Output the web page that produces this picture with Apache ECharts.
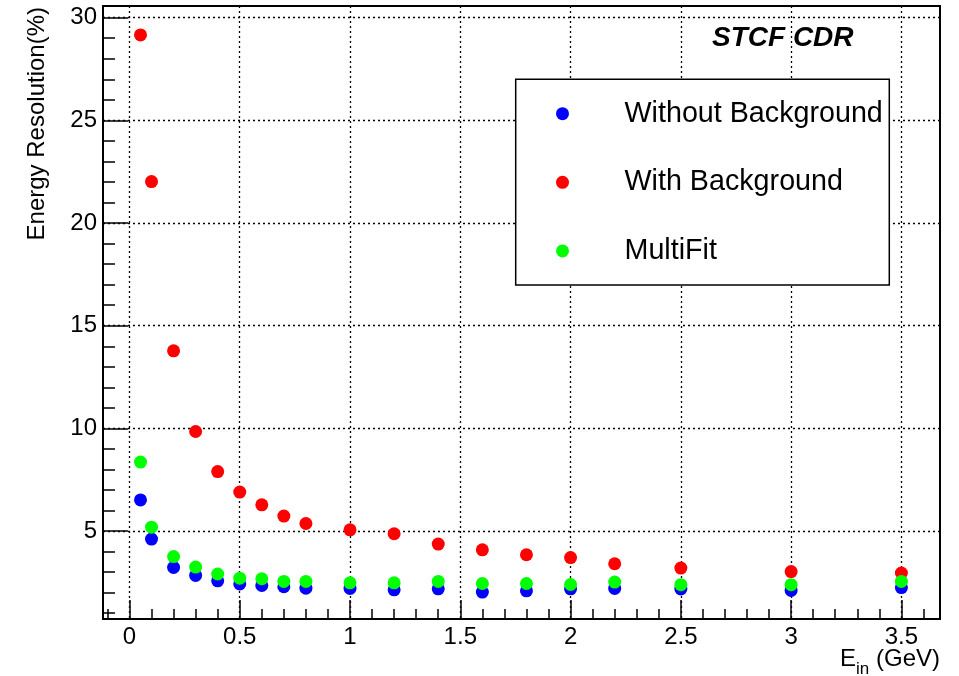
<!DOCTYPE html>
<html>
<head>
<meta charset="utf-8">
<script src="https://cdn.jsdelivr.net/npm/echarts@6/dist/echarts.min.js"></script>
<style>
  html, body { margin: 0; padding: 0; background: #fff; }
  #chart { width: 959px; height: 676px; }
</style>
</head>
<body>
<div id="chart"></div>
<script>
// Incident energy points (GeV)
const energies = [0.05, 0.1, 0.2, 0.3, 0.4, 0.5, 0.6, 0.7, 0.8, 1.0, 1.2, 1.4, 1.6, 1.8, 2.0, 2.2, 2.5, 3.0, 3.5];

// Energy resolution (%) per configuration
const withoutBackground = [6.52, 4.61, 3.23, 2.84, 2.58, 2.43, 2.35, 2.29, 2.22, 2.21, 2.14, 2.19, 2.03, 2.09, 2.19, 2.21, 2.18, 2.11, 2.25];
const withBackground    = [29.16, 22.02, 13.78, 9.85, 7.90, 6.90, 6.28, 5.73, 5.37, 5.06, 4.87, 4.37, 4.09, 3.85, 3.71, 3.41, 3.20, 3.03, 2.96];
const multiFit          = [8.36, 5.19, 3.76, 3.25, 2.91, 2.71, 2.68, 2.55, 2.55, 2.48, 2.48, 2.55, 2.45, 2.45, 2.40, 2.52, 2.39, 2.39, 2.55];

const seriesNames = ['Without Background', 'With Background', 'MultiFit'];
const seriesColors = ['#0000ff', '#ff0000', '#00ff00'];

// Axis ticks
const xMajorTicks = [0, 0.5, 1, 1.5, 2, 2.5, 3, 3.5];
const xMinorTicks = [-0.1, 0.1, 0.2, 0.3, 0.4, 0.6, 0.7, 0.8, 0.9, 1.1, 1.2, 1.3, 1.4, 1.6, 1.7, 1.8, 1.9,
                     2.1, 2.2, 2.3, 2.4, 2.6, 2.7, 2.8, 2.9, 3.1, 3.2, 3.3, 3.4, 3.6];
const yMajorTicks = [5, 10, 15, 20, 25, 30];
const yMinorTicks = [1, 2, 3, 4, 6, 7, 8, 9, 11, 12, 13, 14, 16, 17, 18, 19, 21, 22, 23, 24, 26, 27, 28, 29];

const X_MIN = -0.12, X_MAX = 3.675;
const Y_MIN = 0.72, Y_MAX = 30.57;

const FONT = '"Liberation Sans", Arial, Helvetica, sans-serif';
const BLACK = '#000';

function pairs(xs, ys) {
  return xs.map((x, i) => [x, ys[i]]);
}

const chart = echarts.init(document.getElementById('chart'), null, { renderer: 'canvas' });

const tickStyle = { color: BLACK, width: 1.5 };
const gridDots = { color: BLACK, width: 1.3, type: [2, 3] };
const hiddenLine = { show: false, onZero: false };

function scatterSeries(i, values) {
  return {
    name: seriesNames[i], type: 'scatter', symbol: 'circle', symbolSize: 13,
    xAxisIndex: 0, yAxisIndex: 0,
    itemStyle: { color: seriesColors[i], opacity: 1 },
    emphasis: { disabled: true },
    data: pairs(energies, values)
  };
}

const option = {
  animation: false,
  backgroundColor: '#fff',
  textStyle: { fontFamily: FONT },
  grid: {
    left: 103, right: 19, top: 6, bottom: 57,
    containLabel: false,
    outerBoundsMode: 'none',
    show: true, borderColor: BLACK, borderWidth: 2, backgroundColor: 'transparent'
  },
  xAxis: [
    {
      type: 'value', min: X_MIN, max: X_MAX, splitNumber: 8, position: 'bottom',
      axisLine: hiddenLine,
      axisTick: { show: true, inside: true, length: 19, customValues: xMajorTicks, lineStyle: tickStyle },
      axisLabel: { show: true, customValues: xMajorTicks, fontSize: 24, color: BLACK, margin: 6, fontFamily: FONT },
      splitLine: { show: true, lineStyle: gridDots }
    },
    {
      type: 'value', min: X_MIN, max: X_MAX, position: 'bottom',
      axisLine: hiddenLine,
      axisTick: { show: true, inside: true, length: 10, customValues: xMinorTicks, lineStyle: tickStyle },
      axisLabel: { show: false },
      splitLine: { show: false }
    }
  ],
  yAxis: [
    {
      type: 'value', min: Y_MIN, max: Y_MAX, splitNumber: 6, position: 'left',
      axisLine: hiddenLine,
      axisTick: { show: true, inside: true, length: 25, customValues: yMajorTicks, lineStyle: tickStyle },
      axisLabel: { show: true, customValues: yMajorTicks, fontSize: 24, color: BLACK, margin: 6, fontFamily: FONT },
      splitLine: { show: true, lineStyle: gridDots }
    },
    {
      type: 'value', min: Y_MIN, max: Y_MAX, position: 'left',
      axisLine: hiddenLine,
      axisTick: { show: true, inside: true, length: 12, customValues: yMinorTicks, lineStyle: tickStyle },
      axisLabel: { show: false },
      splitLine: { show: false }
    }
  ],
  legend: {
    show: true,
    orient: 'vertical',
    left: 556,
    top: 98.7,
    padding: 0,
    z: 20,
    itemWidth: 26,
    itemHeight: 13,
    itemGap: 38.6,
    icon: 'circle',
    selectedMode: false,
    data: seriesNames,
    textStyle: { fontSize: 28.7, lineHeight: 30, color: BLACK, fontFamily: FONT, padding: [0, 0, 0, 44] }
  },
  graphic: [
    {
      type: 'rect', z: 10,
      shape: { x: 515.7, y: 79.3, width: 373.6, height: 205.7 },
      style: { fill: '#fff', stroke: BLACK, lineWidth: 1.5 }
    },
    {
      type: 'text', z: 10, x: 712, y: 38,
      style: {
        text: 'STCF CDR', fill: BLACK, fontSize: 28, fontWeight: 'bold', fontStyle: 'italic',
        fontFamily: FONT, verticalAlign: 'middle', align: 'left'
      }
    },
    {
      // y-axis title, reading bottom to top, ending near the top of the frame
      type: 'text', z: 10, x: 37.5, y: 7, rotation: Math.PI / 2,
      style: {
        text: 'Energy Resolution(%)', fill: BLACK, fontSize: 24,
        fontFamily: FONT, align: 'right', verticalAlign: 'middle'
      }
    },
    {
      // x-axis title, right-aligned under the frame corner
      type: 'text', z: 10, x: 940, y: 659.5,
      style: {
        text: '{e|E}{sub|in}{e| (GeV)}', align: 'right', verticalAlign: 'middle',
        rich: {
          e: { fontSize: 24, lineHeight: 30, fill: BLACK, fontFamily: FONT },
          sub: { fontSize: 17, lineHeight: 17, padding: [19, 0, 0, 0], fill: BLACK, fontFamily: FONT }
        }
      }
    }
  ],
  series: [
    scatterSeries(0, withoutBackground),
    scatterSeries(1, withBackground),
    scatterSeries(2, multiFit)
  ]
};

chart.setOption(option);
</script>
</body>
</html>
